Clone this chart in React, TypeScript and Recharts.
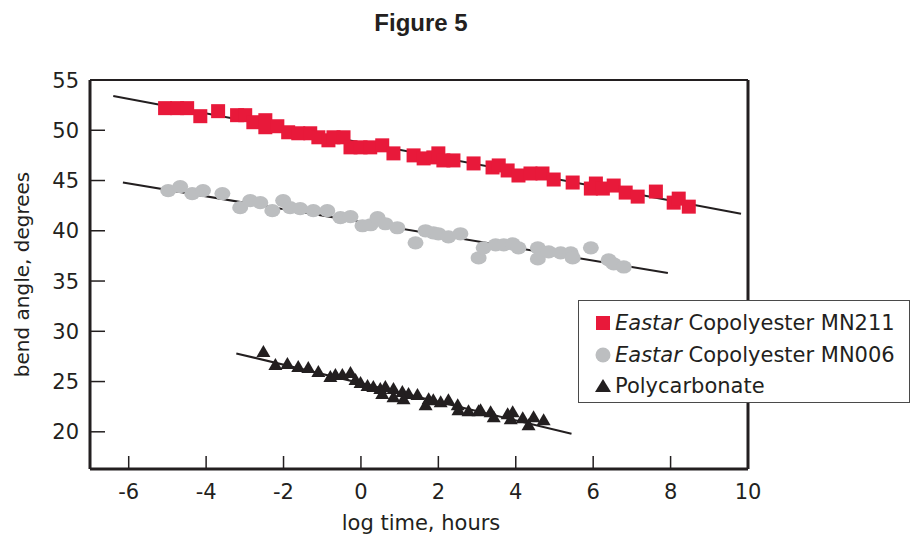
import React from 'react';
import { ScatterChart, Scatter, XAxis, YAxis, ReferenceLine, Legend } from 'recharts';

const xTicks = [-6, -4, -2, 0, 2, 4, 6, 8, 10];
const yTicks = [20, 25, 30, 35, 40, 45, 50, 55];

const mn211: [number, number][] = [
  [-5.06, 52.2], [-4.75, 52.2], [-4.49, 52.2], [-4.15, 51.4], [-3.69, 51.9], [-3.2, 51.5], [-2.99, 51.5],
  [-2.78, 50.8], [-2.47, 51.0], [-2.47, 50.3], [-2.16, 50.4], [-1.88, 49.8], [-1.62, 49.7], [-1.31, 49.7],
  [-1.1, 49.3], [-0.84, 49.0], [-0.71, 49.3], [-0.45, 49.3], [-0.27, 48.3], [-0.01, 48.3], [0.24, 48.3],
  [0.55, 48.5], [0.84, 47.7], [1.36, 47.5], [1.62, 47.2], [1.87, 47.3], [2.0, 47.7], [2.13, 47.0],
  [2.39, 47.0], [2.91, 46.7], [3.4, 46.3], [3.56, 46.5], [3.79, 46.0], [4.07, 45.5], [4.38, 45.7],
  [4.69, 45.7], [4.98, 45.1], [5.47, 44.8], [5.94, 44.2], [6.07, 44.7], [6.25, 44.2], [6.53, 44.5],
  [6.84, 43.8], [7.15, 43.4], [7.62, 43.9], [8.08, 42.8], [8.21, 43.2], [8.47, 42.4],
];

const mn006: [number, number][] = [
  [-4.98, 44.0], [-4.67, 44.4], [-4.36, 43.7], [-4.08, 44.0], [-3.58, 43.7], [-3.12, 42.3], [-2.86, 43.0],
  [-2.6, 42.8], [-2.29, 42.0], [-2.01, 43.0], [-1.83, 42.3], [-1.57, 42.2], [-1.23, 42.0], [-0.87, 42.0],
  [-0.53, 41.3], [-0.27, 41.4], [0.04, 40.5], [0.25, 40.6], [0.43, 41.3], [0.63, 40.7], [0.94, 40.3],
  [1.41, 38.8], [1.67, 40.0], [1.87, 39.8], [2.0, 39.7], [2.26, 39.4], [2.57, 39.7], [3.04, 37.3],
  [3.17, 38.3], [3.48, 38.6], [3.69, 38.6], [3.92, 38.7], [4.07, 38.3], [4.57, 38.3], [4.57, 37.2],
  [4.85, 37.9], [5.16, 37.8], [5.42, 37.8], [5.47, 37.3], [5.94, 38.3], [6.4, 37.1], [6.53, 36.7],
  [6.79, 36.4],
];

const polycarbonate: [number, number][] = [
  [-2.52, 28.0], [-2.21, 26.7], [-1.9, 26.8], [-1.62, 26.5], [-1.36, 26.4], [-1.1, 26.0], [-0.79, 25.5],
  [-0.66, 25.7], [-0.48, 25.7], [-0.27, 25.9], [-0.14, 25.2], [-0.01, 24.9], [0.17, 24.6], [0.32, 24.5],
  [0.5, 24.3], [0.63, 24.5], [0.84, 24.3], [0.55, 23.8], [1.07, 24.0], [1.23, 23.8], [1.46, 23.7],
  [0.84, 23.5], [1.1, 23.3], [1.75, 23.3], [1.87, 23.2], [2.06, 23.0], [2.26, 23.2], [1.67, 22.7],
  [2.5, 22.7], [2.52, 22.2], [2.78, 22.1], [3.04, 22.1], [3.09, 22.2], [3.35, 22.0], [3.43, 21.5],
  [3.79, 21.8], [3.92, 22.0], [3.87, 21.3], [4.18, 21.4], [4.33, 20.7], [4.46, 21.5], [4.72, 21.2],
];

const mn211Fit: [number, number][] = [[-6.4, 53.4], [9.82, 41.7]];
const mn006Fit: [number, number][] = [[-6.15, 44.8], [7.93, 35.8]];
const pcFit: [number, number][] = [[-3.22, 27.8], [5.44, 19.8]];

const toPts = (a: [number, number][]) => a.map(([x, y]) => ({ x, y }));

const RED = '#e8193a';
const GRAY = '#bcbec0';
const INK = '#231f20';
const FONT = '"DejaVu Sans", sans-serif';

const legendItems = [
  { italic: 'Eastar', rest: ' Copolyester MN211', kind: 'square' },
  { italic: 'Eastar', rest: ' Copolyester MN006', kind: 'circle' },
  { italic: '', rest: 'Polycarbonate', kind: 'triangle' },
];

const Square = (p: any) => <rect x={p.cx - 7} y={p.cy - 7} width={14} height={14} fill={RED} />;
const Dot = (p: any) => <ellipse cx={p.cx} cy={p.cy} rx={8} ry={6.6} fill={GRAY} />;
const Tri = (p: any) => (
  <polygon points={`${p.cx},${p.cy - 6.5} ${p.cx - 7},${p.cy + 5.5} ${p.cx + 7},${p.cy + 5.5}`} fill={INK} />
);
const NoShape = () => <g />;

const XM = 10;
const XTick = (p: any) => {
  const ax = p.y - XM;
  return (
    <g>
      {p.payload.value !== 10 && <line x1={p.x} x2={p.x} y1={ax} y2={ax - 13} stroke={INK} strokeWidth={1.5} />}
      <text x={p.x} y={ax + 30} textAnchor="middle" fontSize={21} fontFamily={FONT} fill={INK}>
        {p.payload.value}
      </text>
    </g>
  );
};

const YM = 10;
const YTick = (p: any) => {
  const ax = p.x + YM;
  return (
    <g>
      {p.payload.value !== 55 && <line x1={ax} x2={ax + 15} y1={p.y} y2={p.y} stroke={INK} strokeWidth={1.5} />}
      <text x={ax - 11} y={p.y} dy="0.36em" textAnchor="end" fontSize={21} fontFamily={FONT} fill={INK}>
        {p.payload.value}
      </text>
    </g>
  );
};

const LegendBox = () => (
  <div
    style={{
      width: 332,
      height: 103,
      boxSizing: 'border-box',
      border: '1.5px solid #4a4a4a',
      background: '#fff',
      position: 'relative',
    }}
  >
    {legendItems.map((it, i) => (
      <div
        key={i}
        style={{
          position: 'absolute',
          left: 0,
          top: 22 + i * 31.5 - 14,
          height: 28,
          display: 'flex',
          alignItems: 'center',
          fontFamily: FONT,
          fontSize: 21,
          color: INK,
          whiteSpace: 'nowrap',
        }}
      >
        <svg width={36} height={28} style={{ display: 'block' }}>
          {it.kind === 'square' && <rect x={17} y={7} width={14} height={14} fill={RED} />}
          {it.kind === 'circle' && <circle cx={24} cy={14} r={7.5} fill={GRAY} />}
          {it.kind === 'triangle' && <polygon points="24,7 16,20 32,20" fill={INK} />}
        </svg>
        <span>
          {it.italic && <i>{it.italic}</i>}
          {it.rest}
        </span>
      </div>
    ))}
  </div>
);

export default function App() {
  return (
    <div style={{ position: 'absolute', left: 0, top: 0, width: 913, height: 537, background: '#fff' }}>
      <div
        style={{
          position: 'absolute',
          left: 321,
          width: 200,
          top: 11,
          textAlign: 'center',
          fontFamily: '"Liberation Sans", Arial, sans-serif',
          fontWeight: 'bold',
          fontSize: 24,
          lineHeight: '24px',
          color: INK,
          zIndex: 2,
        }}
      >
        Figure 5
      </div>
      <ScatterChart width={913} height={537} margin={{ top: 80, right: 165, left: 0, bottom: 0 }}>
        <XAxis
          type="number"
          dataKey="x"
          domain={[-7, 10]}
          ticks={xTicks}
          allowDataOverflow
          height={68}
          tickSize={0}
          tickMargin={XM}
          tick={<XTick />}
          axisLine={{ stroke: INK, strokeWidth: 3 }}
          tickLine={false}
          label={{
            content: (lp: any) => {
              const vb = lp.viewBox;
              return (
                <text x={vb.x + vb.width / 2 + 2} y={vb.y + 61} textAnchor="middle" fontSize={21} fontFamily={FONT} fill={INK}>
                  log time, hours
                </text>
              );
            },
          }}
        />
        <YAxis
          type="number"
          dataKey="y"
          domain={[16.3, 55]}
          ticks={yTicks}
          allowDataOverflow
          width={90}
          tickSize={0}
          tickMargin={YM}
          tick={<YTick />}
          axisLine={{ stroke: INK, strokeWidth: 3 }}
          tickLine={false}
          label={{
            content: (lp: any) => {
              const vb = lp.viewBox;
              const cy = vb.y + vb.height / 2;
              return (
                <text x={29} y={cy} transform={`rotate(-90 29 ${cy})`} textAnchor="middle" fontSize={20} fontFamily={FONT} fill={INK}>
                  bend angle, degrees
                </text>
              );
            },
          }}
        />
        <ReferenceLine y={55} stroke={INK} strokeWidth={2} />
        <ReferenceLine x={10} stroke={INK} strokeWidth={3} />
        <Scatter data={toPts(mn211Fit)} line={{ stroke: INK, strokeWidth: 2 }} shape={<NoShape />} isAnimationActive={false} legendType="none" />
        <Scatter data={toPts(mn006Fit)} line={{ stroke: INK, strokeWidth: 2 }} shape={<NoShape />} isAnimationActive={false} legendType="none" />
        <Scatter data={toPts(pcFit)} line={{ stroke: INK, strokeWidth: 2 }} shape={<NoShape />} isAnimationActive={false} legendType="none" />
        <Scatter name="Eastar Copolyester MN211" data={toPts(mn211)} shape={<Square />} isAnimationActive={false} />
        <Scatter name="Eastar Copolyester MN006" data={toPts(mn006)} shape={<Dot />} isAnimationActive={false} />
        <Scatter name="Polycarbonate" data={toPts(polycarbonate)} shape={<Tri />} isAnimationActive={false} />
        <Legend
          verticalAlign="middle"
          align="center"
          content={<LegendBox />}
          wrapperStyle={{ left: 578, top: 300, width: 332, height: 103, zIndex: 3 }}
        />
      </ScatterChart>
    </div>
  );
}
